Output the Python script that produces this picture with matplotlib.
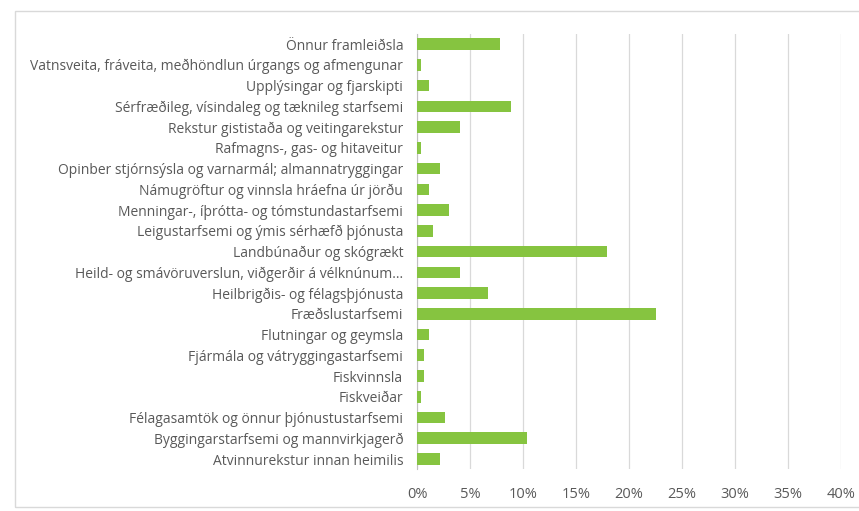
import matplotlib
matplotlib.use('Agg')
import matplotlib.pyplot as plt
from matplotlib.patches import Rectangle
from matplotlib.ticker import FuncFormatter, MultipleLocator

# categories, top to bottom as in the picture
categories = [
    'Önnur framleiðsla',
    'Vatnsveita, fráveita, meðhöndlun úrgangs og afmengunar',
    'Upplýsingar og fjarskipti',
    'Sérfræðileg, vísindaleg og tæknileg starfsemi',
    'Rekstur gististaða og veitingarekstur',
    'Rafmagns-, gas- og hitaveitur',
    'Opinber stjórnsýsla og varnarmál; almannatryggingar',
    'Námugröftur og vinnsla hráefna úr jörðu',
    'Menningar-, íþrótta- og tómstundastarfsemi',
    'Leigustarfsemi og ýmis sérhæfð þjónusta',
    'Landbúnaður og skógrækt',
    'Heild- og smávöruverslun, viðgerðir á vélknúnum...',
    'Heilbrigðis- og félagsþjónusta',
    'Fræðslustarfsemi',
    'Flutningar og geymsla',
    'Fjármála og vátryggingastarfsemi',
    'Fiskvinnsla',
    'Fiskveiðar',
    'Félagasamtök og önnur þjónustustarfsemi',
    'Byggingarstarfsemi og mannvirkjagerð',
    'Atvinnurekstur innan heimilis',
]
shares = [7.8, 0.35, 1.1, 8.9, 4.1, 0.35, 2.2, 1.1, 3.0, 1.5, 17.9,
          4.1, 6.7, 22.6, 1.1, 0.7, 0.7, 0.35, 2.6, 10.4, 2.2]

BAR = '#86C440'
GREY = '#595959'

plt.rcParams['font.family'] = ['Open Sans', 'DejaVu Sans']

fig = plt.figure(figsize=(8.59, 5.11), dpi=100)
ax = fig.add_axes([0.4855, 0.0814, 0.4932, 0.8526])

pos = list(range(len(categories)))
ax.barh(pos, shares, height=0.56, color=BAR, zorder=3)
ax.set_yticks(pos)
ax.set_yticklabels(categories, fontsize=10, color=GREY)
ax.set_ylim(len(categories) - 0.5, -0.5)

ax.set_xlim(0, 40)
ax.xaxis.set_major_locator(MultipleLocator(5))
ax.xaxis.set_major_formatter(FuncFormatter(lambda v, p: f'{v:.0f}%'))
ax.tick_params(axis='x', labelsize=10.5, colors=GREY, length=0, pad=13)
ax.tick_params(axis='y', length=0, pad=10)
ax.grid(axis='x', color='#D9D9D9', linewidth=0.9, zorder=0)

for s in ['top', 'right', 'bottom']:
    ax.spines[s].set_visible(False)
ax.spines['left'].set_color('#BFBFBF')

# light frame round the chart
fig.patches.append(Rectangle((15 / 859, 1 - 507 / 511), 850 / 859, 496 / 511,
                             transform=fig.transFigure, fill=False,
                             edgecolor='#D9D9D9', linewidth=1.0))

fig.savefig('out.png', dpi=100, facecolor='white')
